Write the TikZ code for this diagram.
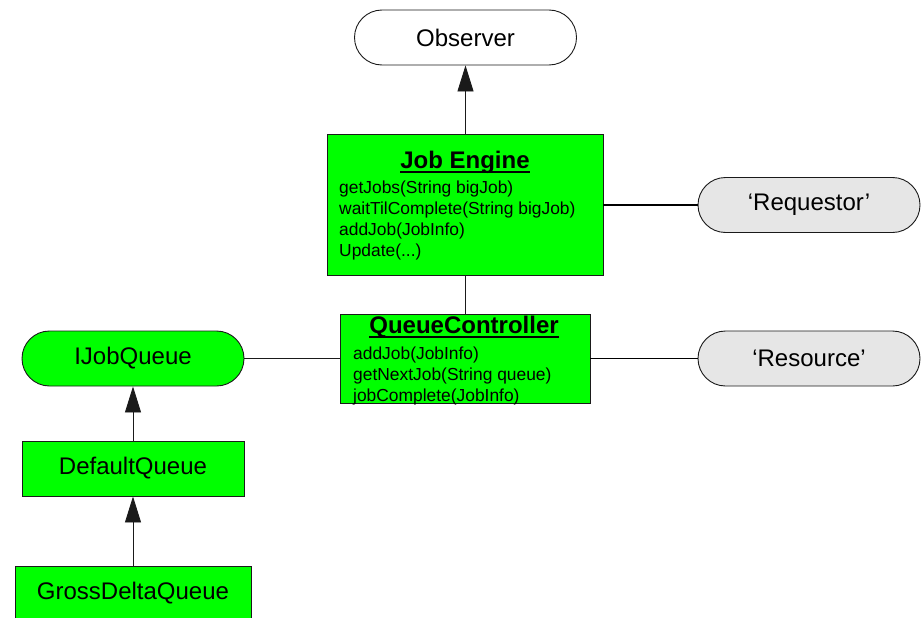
\documentclass[tikz,border=0pt]{standalone}
\usepackage{fontspec}
\setmainfont{Liberation Sans}
\usetikzlibrary{arrows.meta}
\definecolor{boxgreen}{HTML}{00FF00}
\definecolor{actgray}{HTML}{E6E6E6}
\definecolor{edgecol}{HTML}{1A1A1A}
\begin{document}
\begin{tikzpicture}[x=1pt,y=-1pt,
  bigfont/.style={font=\fontsize{24}{28}\selectfont},
  smallfont/.style={font=\fontsize{17.4}{21}\selectfont},
  stadium/.style={draw=edgecol, line width=0.9pt, rounded corners=27.5pt,
    minimum width=222pt, minimum height=55pt, inner sep=0pt, bigfont},
  classbox/.style={draw=edgecol, line width=0.9pt, fill=boxgreen, inner sep=0pt},
  method/.style={anchor=base west, inner sep=0pt, smallfont},
  classtitle/.style={anchor=base, inner sep=0pt, font=\fontsize{24}{28}\selectfont\bfseries},
  inherit/.style={draw=edgecol, line width=0.9pt, -{Triangle[length=26pt,width=16pt]}},
  assoc/.style={draw=edgecol, line width=0.9pt},
  thickassoc/.style={draw=black, line width=1.8pt}]
\useasboundingbox (0,0) rectangle (923,618);

% Observer
\node[stadium, fill=white] (obs) at (465.5,37.5) {Observer};

% Job Engine
\node[classbox, minimum width=276pt, minimum height=141pt] (je) at (465,204.5) {};
\node[classtitle] (jet) at (465,168) {Job Engine};
\draw[line width=1.8pt] ([yshift=-4pt]jet.base west) -- ([yshift=-4pt]jet.base east);
\node[method] (je1) at (339,193) {getJobs(String bigJob)};
\node[method] (je2) at (339,214) {waitTilComplete(String bigJob)};
\node[method] (je3) at (339,235) {addJob(JobInfo)};
\node[method] (je4) at (339,256) {Update(...)};

% QueueController
\node[classbox, minimum width=250pt, minimum height=89pt] (qc) at (465,358.5) {};
\node[classtitle] (qct) at (464,333) {QueueController};
\draw[line width=1.8pt] ([yshift=-4pt]qct.base west) -- ([yshift=-4pt]qct.base east);
\node[method] (qc1) at (353,359) {addJob(JobInfo)};
\node[method] (qc2) at (353,380) {getNextJob(String queue)};
\node[method] (qc3) at (353,401) {jobComplete(JobInfo)};

% Actors
\node[stadium, fill=actgray] (req) at (809,205) {‘Requestor’};
\node[stadium, fill=actgray] (res) at (809,358.5) {‘Resource’};

% Queues
\node[stadium, fill=boxgreen] (ijq) at (133,358.5) {IJobQueue};
\node[classbox, bigfont, minimum width=222pt, minimum height=55pt] (dq) at (133,468.5) {DefaultQueue};
\node[classbox, bigfont, minimum width=236pt, minimum height=55pt] (gdq) at (133,593.5) {GrossDeltaQueue};

% Connectors
\draw[inherit] (je.north -| obs.south) -- (obs.south);
\draw[assoc] (je.south) -- (qc.north);
\draw[thickassoc] (req.west -| je.east) -- (req.west);
\draw[assoc] (ijq.east) -- (qc.west);
\draw[thickassoc] (qc.east) -- (res.west);
\draw[inherit] (dq.north) -- (ijq.south);
\draw[inherit] (gdq.north) -- (dq.south);
\end{tikzpicture}
\end{document}
